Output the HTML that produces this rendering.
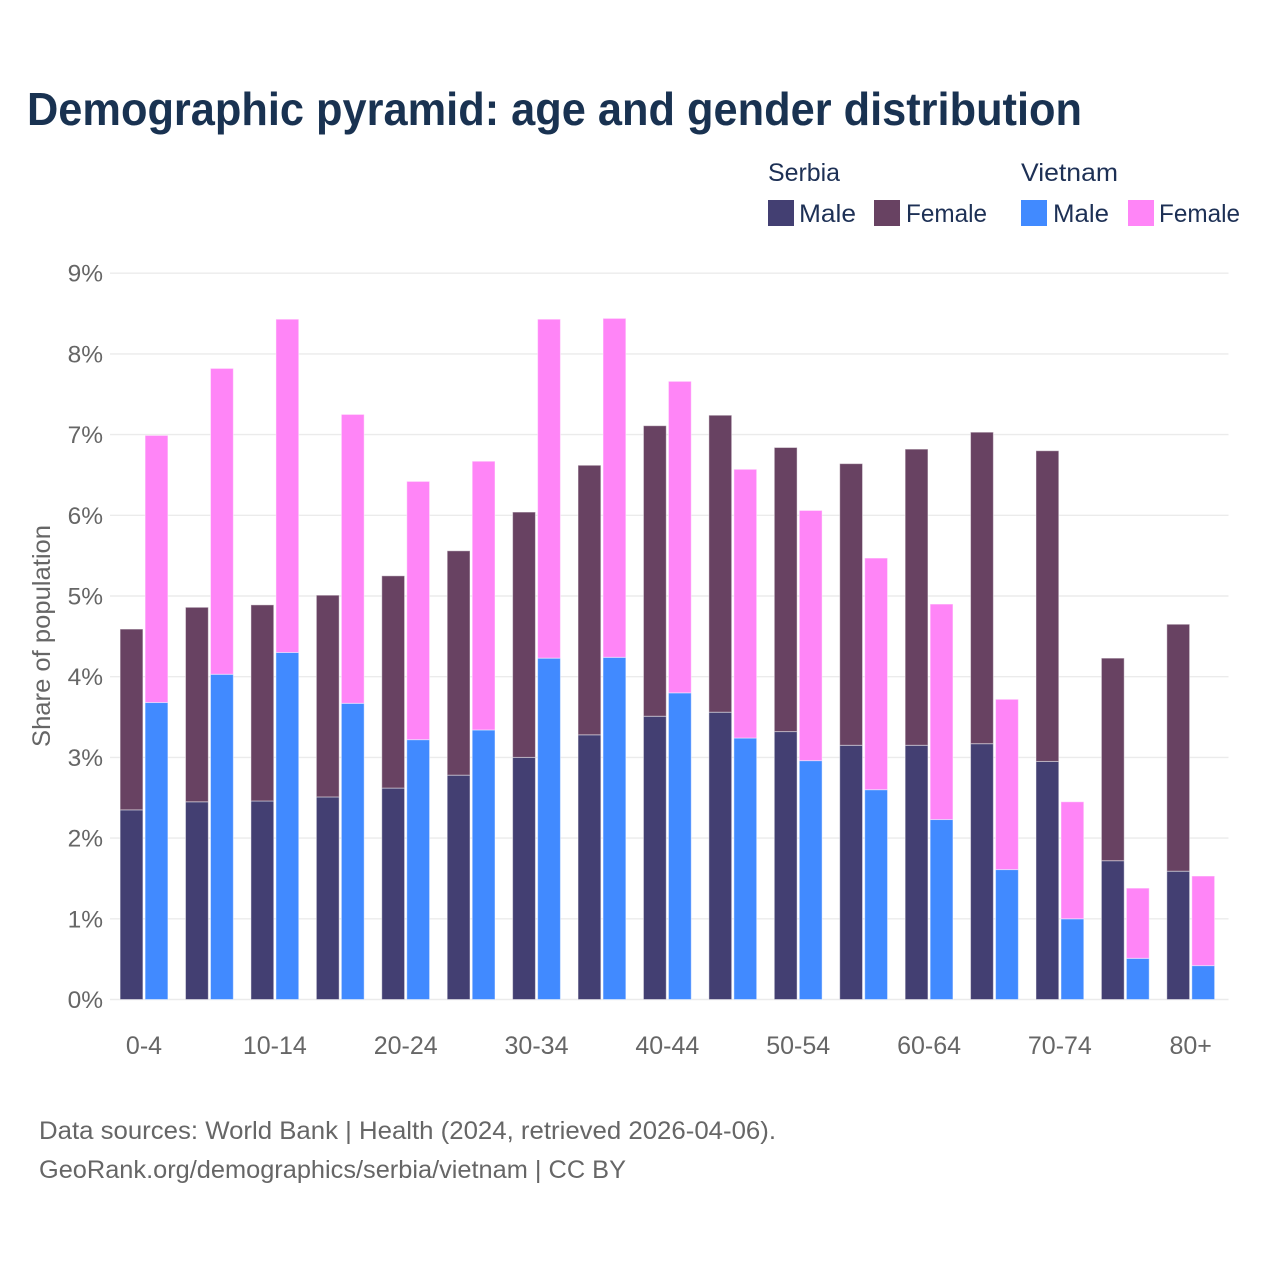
<!DOCTYPE html>
<html lang="en">
<head>
<meta charset="utf-8">
<title>Demographic pyramid: age and gender distribution</title>
<style>
html,body{margin:0;padding:0;background:#fff;width:1280px;height:1280px;overflow:hidden}
svg{display:block;font-family:"Liberation Sans",sans-serif}
</style>
</head>
<body>
<svg id="chart" width="1280" height="1280" viewBox="0 0 1280 1280" xmlns="http://www.w3.org/2000/svg">
  <rect width="1280" height="1280" fill="#fff"/>
  <text x="27" y="125" font-size="46" font-weight="700" fill="#193251" textLength="1055" lengthAdjust="spacingAndGlyphs">Demographic pyramid: age and gender distribution</text>

  <g font-size="25" fill="#1d3055">
    <text x="768" y="181" textLength="72" lengthAdjust="spacingAndGlyphs">Serbia</text>
    <text x="1021" y="181" textLength="97" lengthAdjust="spacingAndGlyphs">Vietnam</text>
    <rect x="768" y="200" width="26" height="26" fill="#433f72"/>
    <text x="799" y="222" textLength="57" lengthAdjust="spacingAndGlyphs">Male</text>
    <rect x="874" y="200" width="26" height="26" fill="#684262"/>
    <text x="906" y="222" textLength="81" lengthAdjust="spacingAndGlyphs">Female</text>
    <rect x="1021" y="200" width="26" height="26" fill="#418aff"/>
    <text x="1053" y="222" textLength="56" lengthAdjust="spacingAndGlyphs">Male</text>
    <rect x="1128" y="200" width="26" height="26" fill="#ff85f7"/>
    <text x="1159" y="222" textLength="81" lengthAdjust="spacingAndGlyphs">Female</text>
  </g>

  <g id="grid"></g>
  <g id="y-ticks" font-size="24.5" fill="#666" text-anchor="end"></g>
  <g id="bars"></g>
  <g id="x-ticks" font-size="25" fill="#666" text-anchor="middle"></g>

  <text transform="translate(50,747) rotate(-90)" font-size="25" fill="#666" textLength="222" lengthAdjust="spacingAndGlyphs">Share of population</text>

  <text x="39" y="1139" font-size="25" fill="#666" textLength="737" lengthAdjust="spacingAndGlyphs">Data sources: World Bank | Health (2024, retrieved 2026-04-06).</text>
  <text x="39" y="1178" font-size="25" fill="#666" textLength="587" lengthAdjust="spacingAndGlyphs">GeoRank.org/demographics/serbia/vietnam | CC BY</text>
</svg>
<script>
const ageGroups = ["0-4","5-9","10-14","15-19","20-24","25-29","30-34","35-39","40-44","45-49","50-54","55-59","60-64","65-69","70-74","75-79","80+"];
const xTickLabels = ["0-4","10-14","20-24","30-34","40-44","50-54","60-64","70-74","80+"];
const yTickValues = [0,1,2,3,4,5,6,7,8,9];
const serbiaMale = [2.35,2.45,2.46,2.51,2.62,2.78,3.00,3.28,3.51,3.56,3.32,3.15,3.15,3.17,2.95,1.72,1.59];
const serbiaFemale = [2.24,2.41,2.43,2.50,2.63,2.78,3.04,3.34,3.60,3.68,3.52,3.49,3.67,3.86,3.85,2.51,3.06];
const vietnamMale = [3.68,4.03,4.30,3.67,3.22,3.34,4.23,4.24,3.80,3.24,2.96,2.60,2.23,1.61,1.00,0.51,0.42];
const vietnamFemale = [3.31,3.79,4.13,3.58,3.20,3.33,4.20,4.20,3.86,3.33,3.10,2.87,2.67,2.11,1.45,0.87,1.11];

const NS = "http://www.w3.org/2000/svg";
const yBase = 999.5, yUnit = 80.7;
const groupStart = 120.1, groupStep = 65.42, barWidth = 22.8, barOffset = 25;
const plotLeft = 110, plotRight = 1228.5;
function yScale(v){ return yBase - v * yUnit; }
function xScale(i){ return groupStart + i * groupStep; }

const grid = document.getElementById("grid");
const yTicks = document.getElementById("y-ticks");
yTickValues.forEach(function(v){
  const line = document.createElementNS(NS, "line");
  
  
  line.setAttribute("x1", plotLeft);
  line.setAttribute("x2", plotRight);
  line.setAttribute("y1", yScale(v));
  line.setAttribute("y2", yScale(v));
  line.setAttribute("stroke", "#ebebeb");
  line.setAttribute("stroke-width", "1.4");
  grid.appendChild(line);
  const t = document.createElementNS(NS, "text");
  
  
  t.setAttribute("x", 103);
  t.setAttribute("y", yScale(v) + 8.5);
  t.textContent = v + "%";
  yTicks.appendChild(t);
});

const bars = document.getElementById("bars");
function addBar(x, bottom, value, color){
  const r = document.createElementNS(NS, "rect");
  
  
  r.setAttribute("x", x);
  r.setAttribute("y", yScale(bottom + value));
  r.setAttribute("width", barWidth);
  r.setAttribute("height", value * yUnit);
  r.setAttribute("fill", color);
  r.setAttribute("stroke", "#ffffff");
  r.setAttribute("stroke-opacity", "0.45");
  r.setAttribute("stroke-width", "1");
  bars.appendChild(r);
}
ageGroups.forEach(function(g, i){
  addBar(xScale(i), 0, serbiaMale[i], "#433f72");
  addBar(xScale(i), serbiaMale[i], serbiaFemale[i], "#684262");
  addBar(xScale(i) + barOffset, 0, vietnamMale[i], "#418aff");
  addBar(xScale(i) + barOffset, vietnamMale[i], vietnamFemale[i], "#ff85f7");
});

const xTicks = document.getElementById("x-ticks");
xTickLabels.forEach(function(label){
  const i = ageGroups.indexOf(label);
  const t = document.createElementNS(NS, "text");
  
  
  t.setAttribute("x", xScale(i) + (barOffset + barWidth) / 2);
  t.setAttribute("y", 1054);
  t.textContent = label;
  xTicks.appendChild(t);
});
</script>
</body>
</html>
